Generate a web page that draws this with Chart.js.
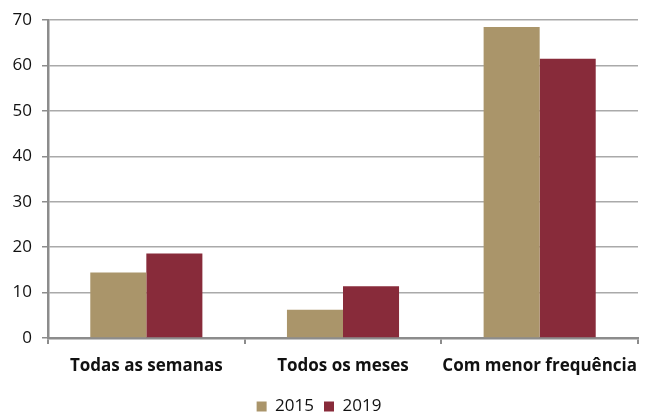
<!DOCTYPE html>
<html lang="pt">
<head>
    <meta charset="UTF-8">
    <script src="https://cdn.jsdelivr.net/npm/chart.js"></script>
    <title>Frequência</title>
    <style>
        html, body { margin: 0; padding: 0; background: #fff; }
        #wrap { width: 649px; height: 416px; }
    </style>
</head>
<body>
    <div id="wrap"><canvas id="grafico"></canvas></div>

    <script>
        // dados
        var categorias = ['Todas as semanas', 'Todos os meses', 'Com menor frequência'];
        var anos = ['2015', '2019'];
        var valores2015 = [14.4, 6.2, 68.5];
        var valores2019 = [18.6, 11.4, 61.5];
        var ticksY = [0, 10, 20, 30, 40, 50, 60, 70];

        var ctx = document.getElementById('grafico').getContext('2d');
        var grafico = new Chart(ctx, {
            type: 'bar',
            data: {
                labels: categorias,
                datasets: [{
                    label: anos[0],
                    data: valores2015,
                    backgroundColor: '#AA956A'
                }, {
                    label: anos[1],
                    data: valores2019,
                    backgroundColor: '#882B3A'
                }]
            },
            options: {
                responsive: true,
                maintainAspectRatio: false,
                animation: false,
                layout: { padding: { top: 14, right: 11, left: 0, bottom: -9 } },
                datasets: { bar: { categoryPercentage: 0.57, barPercentage: 1 } },
                plugins: {
                    tooltip: { enabled: false },
                    legend: {
                        position: 'bottom',
                        labels: {
                            boxWidth: 10, boxHeight: 10, padding: 10,
                            color: '#111',
                            font: { family: 'Open Sans', size: 17, lineHeight: 1 }
                        }
                    }
                },
                scales: {
                    x: {
                        grid: { offset: true, drawOnChartArea: false, tickLength: 6, color: '#8C8C8C', lineWidth: 2 },
                        border: { color: '#8C8C8C', width: 2.5 },
                        ticks: { color: '#111', padding: 12, maxRotation: 0, minRotation: 0, autoSkip: false,
                                 font: { family: 'Open Sans', size: 17, weight: 'bold' } },
                        afterFit: function(scale) {
                            scale.height = 50;
                            scale.paddingLeft = 0;
                            scale.paddingRight = 0;
                        }
                    },
                    y: {
                        min: 0, max: 70,
                        afterBuildTicks: function(scale) {
                            scale.ticks = ticksY.map(function(v) { return { value: v }; });
                        },
                        grid: { color: '#AAAAAA', lineWidth: 1.5, tickLength: 6, tickColor: '#8C8C8C' },
                        border: { color: '#8C8C8C', width: 2.5 },
                        ticks: { color: '#111', padding: 10, font: { family: 'Open Sans', size: 17 } },
                        afterFit: function(scale) { scale.width = 48; }
                    }
                }
            }
        });
    </script>
</body>
</html>
